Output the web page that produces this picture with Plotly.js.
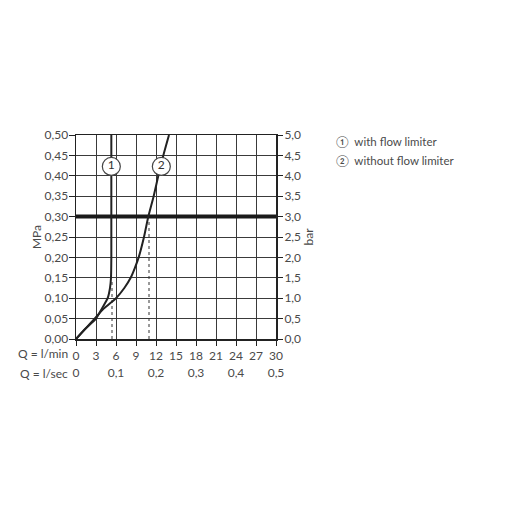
<!DOCTYPE html>
<html>
<head>
<meta charset="utf-8">
<script src="https://cdn.plot.ly/plotly-3.0.1.min.js"></script>
<style>html,body{margin:0;padding:0;background:#fff;}#chart{width:505px;height:505px;}</style>
</head>
<body>
<div id="chart"></div>
<script>
// Flow (l/min) tick values and labels
const qMinTicks = [0, 3, 6, 9, 12, 15, 18, 21, 24, 27, 30];
const qSecTickVals = [0, 6, 12, 18, 24, 30];
const qSecTickText = ['0', '0,1', '0,2', '0,3', '0,4', '0,5'];
const mpaTicks = [0, 0.05, 0.10, 0.15, 0.20, 0.25, 0.30, 0.35, 0.40, 0.45, 0.50];
const mpaText = ['0,00', '0,05', '0,10', '0,15', '0,20', '0,25', '0,30', '0,35', '0,40', '0,45', '0,50'];
const barTicks = [0, 0.5, 1, 1.5, 2, 2.5, 3, 3.5, 4, 4.5, 5];
const barText = ['0,0', '0,5', '1,0', '1,5', '2,0', '2,5', '3,0', '3,5', '4,0', '4,5', '5,0'];

// Curve 1: with flow limiter
const curve1Q = [0, 1.4, 3.0, 3.9, 4.75, 5.1, 5.25, 5.3, 5.3];
const curve1P = [0, 0.025, 0.05, 0.075, 0.10, 0.125, 0.15, 0.20, 0.50];
// Curve 2: without flow limiter
const curve2Q = [0, 1.4, 2.8, 4.2, 6.0, 7.25, 8.2, 8.85, 9.4, 10.2, 10.85, 11.65, 12.35, 13.1, 13.95];
const curve2P = [0, 0.025, 0.05, 0.075, 0.10, 0.125, 0.15, 0.175, 0.20, 0.25, 0.30, 0.35, 0.40, 0.45, 0.50];

// Dashed drop lines at operating point
const dropQ = [5.4, 10.95];
const dropP = [0.14, 0.29];

// Reference pressure line
const refP = 0.30;

// Curve label circles
const labelQ = [5.3, 12.8];
const labelP = [0.423, 0.423];
const labelText = ['1', '2'];

const legendItems = ['\u2460  with flow limiter', '\u2461  without flow limiter'];

const txt = '#4a4a4a';
const fontFam = 'Lato, "Open Sans", sans-serif';

const traces = [];
// dashed drop lines
for (let i = 0; i < dropQ.length; i++) {
  traces.push({x: [dropQ[i], dropQ[i]], y: [0, dropP[i]], mode: 'lines', xaxis: 'x', yaxis: 'y',
    line: {color: '#333', width: 1, dash: '3px,3px'}, hoverinfo: 'skip', showlegend: false});
}
// reference line
traces.push({x: [0, 30.3], y: [refP, refP], mode: 'lines', line: {color: '#1a1a1a', width: 4},
  hoverinfo: 'skip', showlegend: false, cliponaxis: false});
traces.push({x: curve1Q, y: curve1P, mode: 'lines', line: {color: '#222', width: 2, shape: 'spline', smoothing: 0.6},
  showlegend: false});
traces.push({x: curve2Q, y: curve2P, mode: 'lines', line: {color: '#222', width: 2, shape: 'spline', smoothing: 0.6},
  showlegend: false});
traces.push({x: labelQ, y: labelP, mode: 'markers+text', text: labelText, textposition: 'middle center',
  textfont: {family: fontFam, size: 12, color: '#333'},
  marker: {size: 18, color: '#fff', line: {color: '#444', width: 1.2}}, showlegend: false, cliponaxis: false});
// invisible traces to anchor secondary axes
traces.push({x: [0, 30], y: [0, 0.5], xaxis: 'x2', yaxis: 'y', mode: 'none', hoverinfo: 'skip', showlegend: false});
traces.push({x: [0, 30], y: [0, 5], xaxis: 'x', yaxis: 'y2', mode: 'none', hoverinfo: 'skip', showlegend: false});

const annotations = [
  {text: 'Q = l/min', xref: 'paper', yref: 'paper', x: -0.03, y: -0.072, xanchor: 'right', yanchor: 'middle',
    showarrow: false, font: {family: fontFam, size: 12, color: txt}},
  {text: 'Q = l/sec', xref: 'paper', yref: 'paper', x: -0.03, y: -0.17, xanchor: 'right', yanchor: 'middle',
    showarrow: false, font: {family: fontFam, size: 12, color: txt}}
];
legendItems.forEach((t, i) => {
  annotations.push({text: t, xref: 'paper', yref: 'paper', x: 1.29, y: 0.97 - i * 0.093,
    xanchor: 'left', yanchor: 'middle', showarrow: false, font: {family: fontFam, size: 11.5, color: txt}});
});

const layout = {
  width: 505, height: 505,
  margin: {l: 76, r: 229, t: 135, b: 166, pad: 0},
  paper_bgcolor: '#fff', plot_bgcolor: '#fff',
  font: {family: fontFam, size: 12, color: txt},
  showlegend: false,
  xaxis: {range: [0, 30], tickvals: qMinTicks, ticktext: qMinTicks.map(String), showgrid: true,
    gridcolor: '#3a3a3a', gridwidth: 1, zeroline: false, showline: true, linecolor: '#222', linewidth: 1.5,
    mirror: true, ticks: 'outside', ticklen: 5, tickcolor: '#222', tickfont: {size: 12, color: txt}, fixedrange: true},
  xaxis2: {range: [0, 30], overlaying: 'x', side: 'bottom', anchor: 'y', tickvals: qSecTickVals, ticktext: qSecTickText,
    showgrid: false, zeroline: false, showline: false, ticks: '', ticklabelstandoff: 25,
    tickfont: {size: 12, color: txt}},
  yaxis: {range: [0, 0.5], tickvals: mpaTicks, ticktext: mpaText, showgrid: true, gridcolor: '#3a3a3a', gridwidth: 1,
    zeroline: false, showline: true, linecolor: '#222', linewidth: 1.5, mirror: true, ticks: 'outside', ticklen: 6,
    tickcolor: '#222', tickfont: {size: 12, color: txt}, ticklabelstandoff: -2,
    title: {text: 'MPa', font: {size: 12, color: txt}, standoff: 0}},
  yaxis2: {range: [0, 5], overlaying: 'y', side: 'right', tickvals: barTicks, ticktext: barText, showgrid: false,
    zeroline: false, showline: false, ticks: 'outside', ticklen: 6, tickcolor: '#222', tickfont: {size: 12, color: txt},
    ticklabelstandoff: -1,
    title: {text: 'bar', font: {size: 12, color: txt}, standoff: 0}},
  annotations: annotations
};

Plotly.newPlot('chart', traces, layout, {displayModeBar: false, staticPlot: true});
</script>
</body>
</html>
